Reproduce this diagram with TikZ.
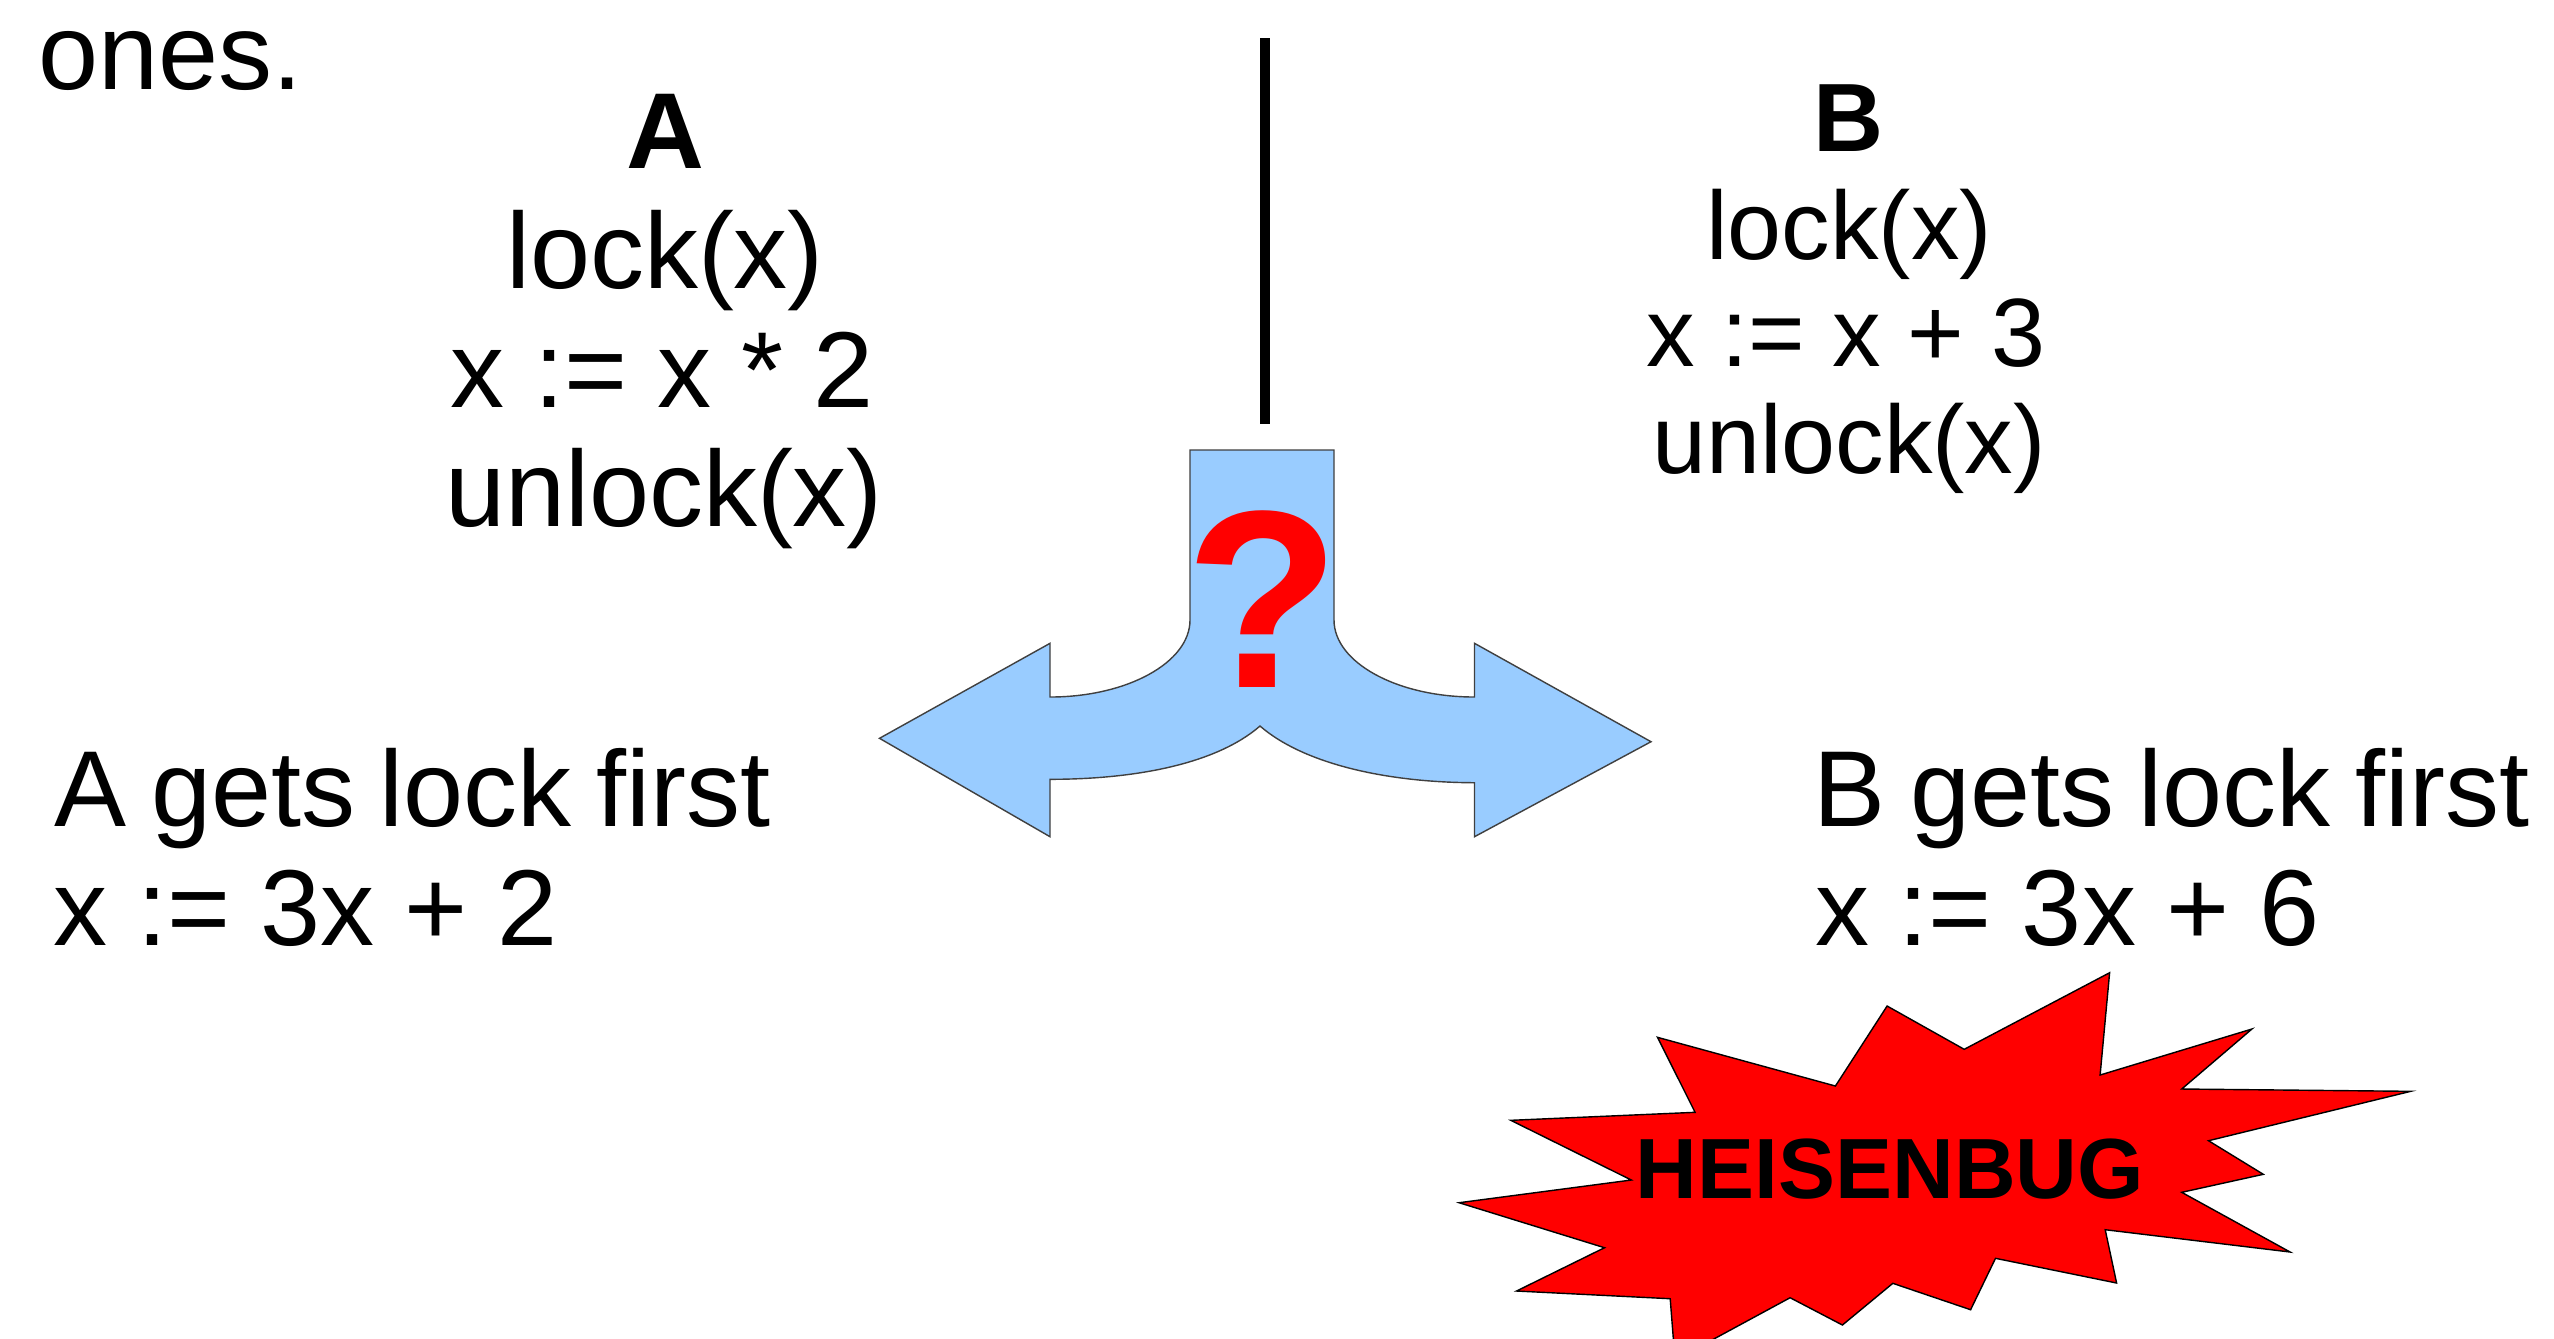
\documentclass[tikz,border=0pt]{standalone}
\usepackage{fontspec}
\setmainfont{Liberation Sans}
\definecolor{arrowblue}{HTML}{99CCFF}
\definecolor{bugred}{HTML}{FF0000}
\begin{document}
\begin{tikzpicture}[x=0.01cm,y=-0.01cm,
  txt/.style={inner sep=0pt,outer sep=0pt,font=\fontsize{30.7}{36}\selectfont},
  txtb/.style={inner sep=0pt,outer sep=0pt,font=\fontsize{27.6}{32}\selectfont},
  tight/.style={execute at begin node={\spaceskip=0.228em plus 0.1em minus 0.1em\relax}},
  ctr/.style={anchor=base},
  lft/.style={anchor=base west},
  branch/.style={fill=arrowblue,draw=black!75,line width=0.4pt,line join=miter},
  burst/.style={fill=bugred,draw=black,line width=0.4pt,line join=miter},
  divider/.style={line width=0.1cm}]
\clip (0,0) rectangle (2554,1338);
\fill[white] (0,0) rectangle (2554,1338);

% top-left text fragment
\node[txt,lft] (ones) at (38,89) {ones.};

% column A
\node[txt,ctr] (Ahead) at (665,168) {\bfseries A};
\node[txt,ctr] (A1) at (665,288) {lock(x)};
\node[txt,ctr] (A2) at (662,407) {x := x * 2};
\node[txt,ctr] (A3) at (664,526) {unlock(x)};

% column B
\node[txtb,ctr] (Bhead) at (1849,151.5) {\bfseries B};
\node[txtb,ctr] (B1) at (1849,259.5) {lock(x)};
\node[txtb,ctr] (B2) at (1846,366) {x := x + 3};
\node[txtb,ctr] (B3) at (1849,473.5) {unlock(x)};

% divider
\coordinate (dtop) at (1265,38);
\coordinate (dbot) at (1265,424);
\draw[divider] (dtop) -- (dbot);

% branching arrow
\path[branch] (1190,450) -- (1334,450) -- (1334,620)
  .. controls (1334,662.5) and (1397,697) .. (1474.5,697)
  -- (1474.5,643.3) -- (1651,741.7) -- (1474.5,836.7) -- (1474.5,782.7)
  .. controls (1390,782.5) and (1305,765) .. (1260,726)
  .. controls (1215,765) and (1132,779.3) .. (1050,779.3)
  -- (1050,836.7) -- (879.5,738.3) -- (1050,643.3) -- (1050,697)
  .. controls (1127,697) and (1190,662.5) .. (1190,620) -- cycle;
\node[inner sep=0pt,anchor=base,text=bugred,font=\fontsize{72}{80}\selectfont\bfseries] (qm) at (1263,687) {?};

% outcomes
\node[txt,lft,tight] (Aout1) at (54.6,826.7) {A gets lock first};
\node[txt,lft] (Aout2) at (53.6,945.7) {x := 3x + 2};
\node[txt,lft,tight] (Bout1) at (1813.5,826.7) {B gets lock first};
\node[txt,lft] (Bout2) at (1815,945.7) {x := 3x + 6};

% explosion
\path[burst] (1657.5,1037.3) -- (1835.4,1086) -- (1887.1,1006) -- (1964.2,1049.3)
  -- (2109.6,972.7) -- (2100.1,1075) -- (2251.9,1029) -- (2181.7,1089)
  -- (2410.7,1091.3) -- (2208.5,1140.7) -- (2263.3,1174.3) -- (2181.7,1192.3)
  -- (2290.1,1252) -- (2105.2,1229.7) -- (2116.6,1283) -- (1995.5,1258.3)
  -- (1970.6,1309.7) -- (1892.8,1283.3) -- (1842.4,1325) -- (1790.1,1297.7)
  -- (1675,1360) -- (1670.2,1298.7) -- (1516.5,1291) -- (1604.5,1247.7)
  -- (1459.1,1202.7) -- (1631.3,1180) -- (1510.8,1120.3) -- (1695.1,1112.3) -- cycle;
\node[inner sep=0pt,anchor=base,font=\fontsize{24.3}{28}\selectfont\bfseries] (bug) at (1890,1198.3) {HEISENBUG};
\end{tikzpicture}
\end{document}
